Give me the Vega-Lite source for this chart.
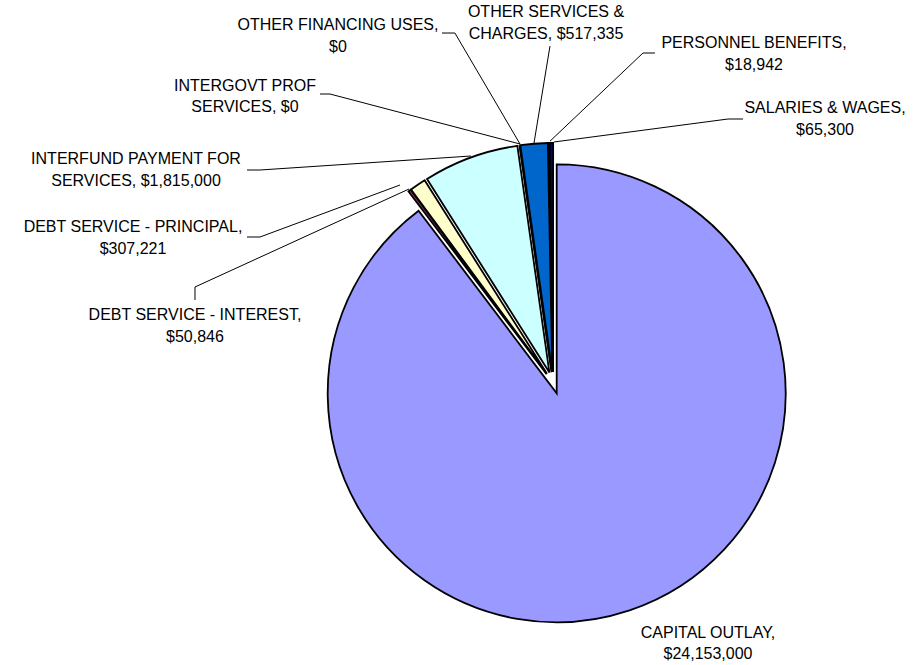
{
  "$schema": "https://vega.github.io/schema/vega-lite/v6.json",
  "width": 917,
  "height": 665,
  "autosize": {"type": "none"},
  "padding": 0,
  "background": "white",
  "config": {"view": {"stroke": null}},
  "datasets": {
    "spend": [
      {"idx": 1, "category": "CAPITAL OUTLAY", "amount": 24153000},
      {"idx": 2, "category": "DEBT SERVICE - INTEREST", "amount": 50846},
      {"idx": 3, "category": "DEBT SERVICE - PRINCIPAL", "amount": 307221},
      {"idx": 4, "category": "INTERFUND PAYMENT FOR SERVICES", "amount": 1815000},
      {"idx": 5, "category": "INTERGOVT PROF SERVICES", "amount": 0},
      {"idx": 6, "category": "OTHER FINANCING USES", "amount": 0},
      {"idx": 7, "category": "OTHER SERVICES & CHARGES", "amount": 517335},
      {"idx": 8, "category": "PERSONNEL BENEFITS", "amount": 18942},
      {"idx": 9, "category": "SALARIES & WAGES", "amount": 65300}
    ],
    "labels": [
      {"category": "CAPITAL OUTLAY", "lines": ["CAPITAL OUTLAY,", "$24,153,000"], "lx": 0.676, "ly": -1.0911},
      {"category": "DEBT SERVICE - INTEREST", "lines": ["DEBT SERVICE - INTEREST,", "$50,846"], "lx": -1.5642, "ly": 0.2954},
      {"category": "DEBT SERVICE - PRINCIPAL", "lines": ["DEBT SERVICE - PRINCIPAL,", "$307,221"], "lx": -1.8349, "ly": 0.6797},
      {"category": "INTERFUND PAYMENT FOR SERVICES", "lines": ["INTERFUND PAYMENT FOR", "SERVICES, $1,815,000"], "lx": -1.8218, "ly": 0.9766},
      {"category": "INTERGOVT PROF SERVICES", "lines": ["INTERGOVT PROF", "SERVICES, $0"], "lx": -1.3459, "ly": 1.2976},
      {"category": "OTHER FINANCING USES", "lines": ["OTHER FINANCING USES,", "$0"], "lx": -0.9397, "ly": 1.5617},
      {"category": "OTHER SERVICES & CHARGES", "lines": ["OTHER SERVICES &", "CHARGES, $517,335"], "lx": -0.0314, "ly": 1.6185},
      {"category": "PERSONNEL BENEFITS", "lines": ["PERSONNEL BENEFITS,", "$18,942"], "lx": 0.8769, "ly": 1.4831},
      {"category": "SALARIES & WAGES", "lines": ["SALARIES & WAGES,", "$65,300"], "lx": 1.1869, "ly": 1.1993}
    ],
    "leaders": [
      {"leader": "OTHER FINANCING USES", "pt": 1, "lx": -0.4856, "ly": 1.5279},
      {"leader": "OTHER FINANCING USES", "pt": 2, "lx": -0.4293, "ly": 1.5279},
      {"leader": "OTHER FINANCING USES", "pt": 3, "lx": -0.1449, "ly": 1.0432},
      {"leader": "INTERGOVT PROF SERVICES", "pt": 1, "lx": -1.0183, "ly": 1.2616},
      {"leader": "INTERGOVT PROF SERVICES", "pt": 2, "lx": -0.9747, "ly": 1.2616},
      {"leader": "INTERGOVT PROF SERVICES", "pt": 3, "lx": -0.1449, "ly": 1.0432},
      {"leader": "INTERFUND PAYMENT FOR SERVICES", "pt": 1, "lx": -1.3371, "ly": 0.9297},
      {"leader": "INTERFUND PAYMENT FOR SERVICES", "pt": 2, "lx": -1.2803, "ly": 0.9297},
      {"leader": "INTERFUND PAYMENT FOR SERVICES", "pt": 3, "lx": -0.359, "ly": 0.9908},
      {"leader": "DEBT SERVICE - PRINCIPAL", "pt": 1, "lx": -1.3371, "ly": 0.6371},
      {"leader": "DEBT SERVICE - PRINCIPAL", "pt": 2, "lx": -1.2803, "ly": 0.6371},
      {"leader": "DEBT SERVICE - PRINCIPAL", "pt": 3, "lx": -0.669, "ly": 0.8642},
      {"leader": "DEBT SERVICE - INTEREST", "pt": 1, "lx": -1.5642, "ly": 0.362},
      {"leader": "DEBT SERVICE - INTEREST", "pt": 2, "lx": -1.5642, "ly": 0.4188},
      {"leader": "DEBT SERVICE - INTEREST", "pt": 3, "lx": -0.6297, "ly": 0.8467},
      {"leader": "OTHER SERVICES & CHARGES", "pt": 1, "lx": -0.014, "ly": 1.4712},
      {"leader": "OTHER SERVICES & CHARGES", "pt": 2, "lx": -0.0838, "ly": 1.0476},
      {"leader": "PERSONNEL BENEFITS", "pt": 1, "lx": 0.4445, "ly": 1.4406},
      {"leader": "PERSONNEL BENEFITS", "pt": 2, "lx": 0.3921, "ly": 1.4406},
      {"leader": "PERSONNEL BENEFITS", "pt": 3, "lx": -0.014, "ly": 1.0555},
      {"leader": "SALARIES & WAGES", "pt": 1, "lx": 0.8288, "ly": 1.1524},
      {"leader": "SALARIES & WAGES", "pt": 2, "lx": 0.7633, "ly": 1.1524},
      {"leader": "SALARIES & WAGES", "pt": 3, "lx": 0.0035, "ly": 1.052}
    ]
  },
  "layer": [
    {
      "data": {"name": "spend"},
      "transform": [
        {"joinaggregate": [{"op": "sum", "field": "amount", "as": "total"}]},
        {"window": [{"op": "sum", "field": "amount", "as": "cum"}], "sort": [{"field": "idx", "order": "ascending"}], "frame": [null, 0]},
        {"calculate": "2*PI*(datum.cum - datum.amount/2)/datum.total", "as": "mid"},
        {"calculate": "0.048*sin(datum.mid)", "as": "ex"},
        {"calculate": "0.048*cos(datum.mid)", "as": "ey"}
      ],
      "mark": {"type": "arc", "radius": 229, "stroke": "#000000", "strokeWidth": 1.8},
      "encoding": {
        "theta": {"field": "amount", "type": "quantitative", "stack": true},
        "order": {"field": "idx", "type": "quantitative", "sort": "ascending"},
        "color": {
          "field": "category",
          "type": "nominal",
          "scale": {
            "domain": ["CAPITAL OUTLAY", "DEBT SERVICE - INTEREST", "DEBT SERVICE - PRINCIPAL", "INTERFUND PAYMENT FOR SERVICES", "INTERGOVT PROF SERVICES", "OTHER FINANCING USES", "OTHER SERVICES & CHARGES", "PERSONNEL BENEFITS", "SALARIES & WAGES"],
            "range": ["#9999FF", "#993366", "#FFFFCC", "#CCFFFF", "#660066", "#FF8080", "#0066CC", "#CCCCFF", "#000080"]
          },
          "legend": null
        },
        "x": {"field": "ex", "type": "quantitative", "scale": {"domain": [-2.4157, 1.5886], "nice": false, "zero": false}, "axis": null},
        "y": {"field": "ey", "type": "quantitative", "scale": {"domain": [-1.2319, 1.6721], "nice": false, "zero": false}, "axis": null}
      }
    },
    {
      "data": {"name": "leaders"},
      "mark": {"type": "line", "color": "#000000", "strokeWidth": 1},
      "encoding": {
        "x": {"field": "lx", "type": "quantitative", "scale": {"domain": [-2.4157, 1.5886], "nice": false, "zero": false}, "axis": null},
        "y": {"field": "ly", "type": "quantitative", "scale": {"domain": [-1.2319, 1.6721], "nice": false, "zero": false}, "axis": null},
        "detail": {"field": "leader", "type": "nominal"},
        "order": {"field": "pt", "type": "quantitative"}
      }
    },
    {
      "data": {"name": "labels"},
      "mark": {"type": "text", "font": "Liberation Sans", "fontSize": 16, "lineHeight": 21.5, "align": "center", "baseline": "middle", "color": "#000000"},
      "encoding": {
        "x": {"field": "lx", "type": "quantitative", "scale": {"domain": [-2.4157, 1.5886], "nice": false, "zero": false}, "axis": null},
        "y": {"field": "ly", "type": "quantitative", "scale": {"domain": [-1.2319, 1.6721], "nice": false, "zero": false}, "axis": null},
        "text": {"field": "lines", "type": "nominal"}
      }
    }
  ]
}
